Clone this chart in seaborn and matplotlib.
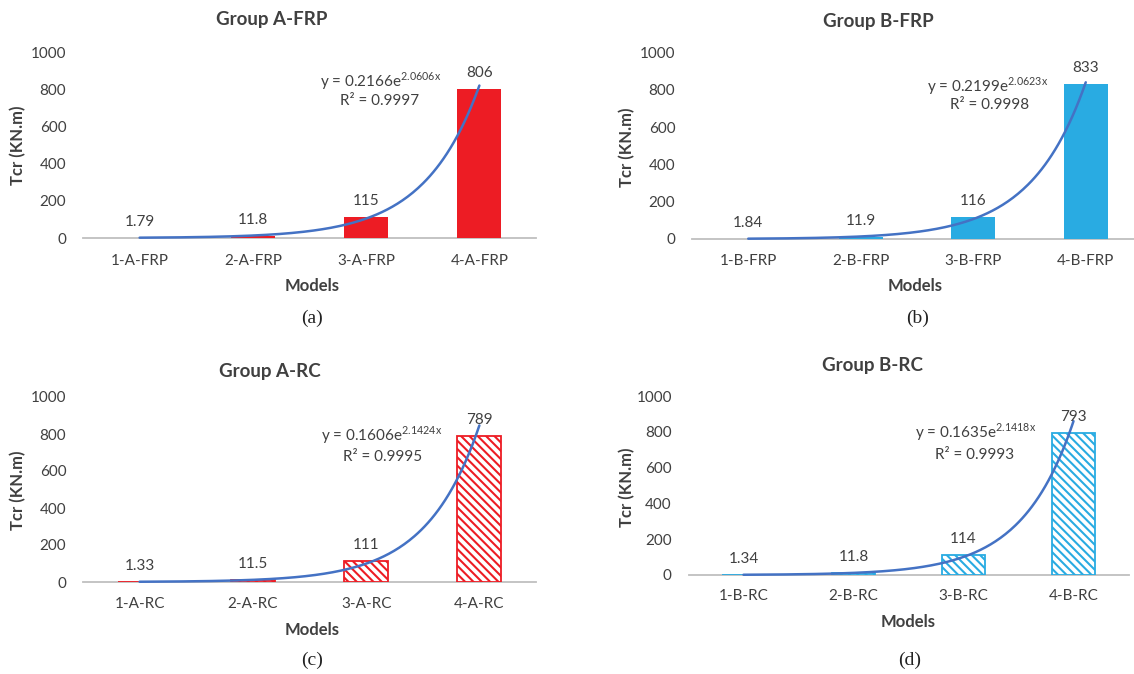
import numpy as np
import pandas as pd
import matplotlib
matplotlib.use("Agg")
import matplotlib.pyplot as plt
import seaborn as sns

# ---- data ----
models_a_frp = ["1-A-FRP", "2-A-FRP", "3-A-FRP", "4-A-FRP"]
models_b_frp = ["1-B-FRP", "2-B-FRP", "3-B-FRP", "4-B-FRP"]
models_a_rc = ["1-A-RC", "2-A-RC", "3-A-RC", "4-A-RC"]
models_b_rc = ["1-B-RC", "2-B-RC", "3-B-RC", "4-B-RC"]

tcr_a_frp = [1.79, 11.8, 115, 806]
tcr_b_frp = [1.84, 11.9, 116, 833]
tcr_a_rc = [1.33, 11.5, 111, 789]
tcr_b_rc = [1.34, 11.8, 114, 793]

# exponential trendlines y = a * exp(b * x), x = 1..4
fit_a = [0.2166, 0.2199, 0.1606, 0.1635]
fit_b = [2.0606, 2.0623, 2.1424, 2.1418]
fit_r2 = ["0.9997", "0.9998", "0.9995", "0.9993"]

titles = ["Group A-FRP", "Group B-FRP", "Group A-RC", "Group B-RC"]
letters = ["(a)", "(b)", "(c)", "(d)"]

RED = "#ED1C24"
BLUE = "#29ABE2"
TREND = "#4472C4"
TXT = "#404040"

sns.set_theme(style="white")
plt.rcParams["font.family"] = ["Lato", "DejaVu Sans"]
plt.rcParams["mathtext.fontset"] = "custom"
plt.rcParams["mathtext.rm"] = "Lato"
plt.rcParams["hatch.linewidth"] = 1.5

W, H = 1134, 674
fig = plt.figure(figsize=(W / 100, H / 100), dpi=100)


def fxy(x, y):
    return x / W, 1 - y / H


# panel geometry in pixels: left, right, y of 0, y of 1000, category spacing
panels = [
    dict(models=models_a_frp, vals=tcr_a_frp, color=RED, hatched=False,
         left=83, right=536, y0=238, y1000=52.7, step=113.25,
         title=(272, 20), ylab=(18, 145), xlab=(312, 286), letter=(312, 318),
         eq=(381, 81), r2=(380, 101), ticky=262),
    dict(models=models_b_frp, vals=tcr_b_frp, color=BLUE, hatched=False,
         left=692, right=1134, y0=239, y1000=52.7, step=112.5,
         title=(878, 21), ylab=(627, 147), xlab=(915, 286), letter=(918, 318),
         eq=(988, 86), r2=(990, 105), ticky=262),
    dict(models=models_a_rc, vals=tcr_a_rc, color=RED, hatched=True,
         left=83, right=536, y0=582, y1000=397, step=113.25,
         title=(270, 372), ylab=(18, 490), xlab=(312, 630), letter=(312, 660),
         eq=(382, 435), r2=(383, 457), ticky=605),
    dict(models=models_b_rc, vals=tcr_b_rc, color=BLUE, hatched=True,
         left=688.5, right=1128.5, y0=575, y1000=396, step=110,
         title=(873, 366), ylab=(627, 487), xlab=(908, 622), letter=(910, 660),
         eq=(976, 432), r2=(975, 455), ticky=597),
]

for k, p in enumerate(panels):
    l, b = fxy(p["left"], p["y0"])
    w = (p["right"] - p["left"]) / W
    h = (p["y0"] - p["y1000"]) / H
    ax = fig.add_axes([l, b, w, h])

    df = pd.DataFrame({"model": p["models"], "tcr": p["vals"]})
    if p["hatched"]:
        sns.barplot(data=df, x="model", y="tcr", ax=ax, color="white",
                    width=0.39, edgecolor=p["color"], linewidth=1.3,
                    saturation=1)
        for bar in ax.patches:
            bar.set_hatch("\\\\\\\\")
            bar.set_edgecolor(p["color"])
    else:
        sns.barplot(data=df, x="model", y="tcr", ax=ax, color=p["color"],
                    width=0.39, saturation=1, linewidth=0)

    # exponential trendline from the fitted coefficients
    xs = np.linspace(1, 4, 200)
    ys = fit_a[k] * np.exp(fit_b[k] * xs)
    sns.lineplot(x=xs - 1, y=ys, ax=ax, color=TREND, linewidth=1.8,
                 sort=False, estimator=None)
    for ln in ax.lines:
        ln.set_clip_on(False)

    # value labels
    for i, v in enumerate(p["vals"]):
        ax.annotate(f"{v:.3g}", xy=(i, v), xytext=(0, 11.5),
                    textcoords="offset points", ha="center", va="center",
                    fontsize=11, color=TXT, annotation_clip=False)

    span = (p["right"] - p["left"]) / p["step"]
    ax.set_xlim(-0.5, -0.5 + span)
    ax.set_ylim(0, 1000)
    ax.set_yticks(range(0, 1001, 200))
    for s in ["top", "right", "left"]:
        ax.spines[s].set_visible(False)
    ax.spines["bottom"].set_color("#BFBFBF")
    ax.spines["bottom"].set_linewidth(1.3)
    ax.spines["bottom"].set_zorder(0.5)
    ax.tick_params(axis="both", length=0, labelsize=11, colors=TXT)
    ax.tick_params(axis="y", pad=12)
    ax.tick_params(axis="x", pad=(p["ticky"] - p["y0"] - 8) * 0.72)
    ax.grid(False)
    ax.set_facecolor("none")

    ax.set_xlabel("Models", fontsize=12, fontweight="bold", color=TXT)
    ax.xaxis.set_label_coords(*fxy(*p["xlab"]), transform=fig.transFigure)
    ax.xaxis.label.set_va("center")
    ax.set_ylabel("Tcr (KN.m)", fontsize=12, fontweight="bold", color=TXT)
    ax.yaxis.set_label_coords(*fxy(*p["ylab"]), transform=fig.transFigure)
    ax.yaxis.label.set_va("center")

    fig.text(*fxy(*p["title"]), titles[k], ha="center", va="center",
             fontsize=13.5, fontweight="bold", color=TXT)
    fig.text(*fxy(*p["letter"]), letters[k], ha="center", va="center",
             fontsize=14, color="#222222", family="Liberation Serif")
    fig.text(*fxy(*p["eq"]),
             f"y = {fit_a[k]:.4f}e" + r"$^{\mathregular{" + f"{fit_b[k]:.4f}" + r"x}}$",
             ha="center", va="center", fontsize=11, color=TXT)
    fig.text(*fxy(*p["r2"]), f"R² = {fit_r2[k]}", ha="center", va="center",
             fontsize=11, color=TXT)

fig.savefig("out.png", dpi=100, facecolor="white")
